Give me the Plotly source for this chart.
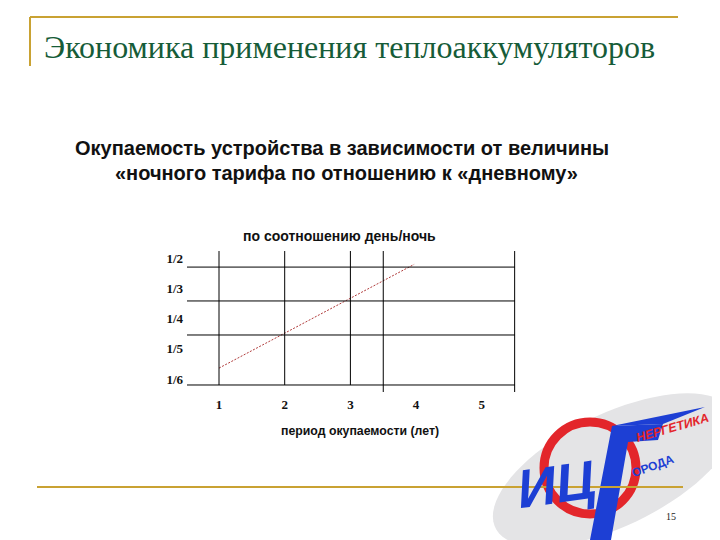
import numpy as np
import plotly.graph_objects as go

# ---------------- data ----------------
years = [1, 2, 3, 4, 5]
ratio_pos = [0, 1, 2, 3, 4]
ratio_labels = ["1/6", "1/5", "1/4", "1/3", "1/2"]
line_years = [1.0, 3.97]
line_ratio = [0.36, 3.79]
grid_h = [3.70, 2.58, 1.455, -0.198]
grid_h_x = [0.513, 5.505]
grid_v = [1, 2, 3, 3.5, 5.5]
grid_v_bottom = [-0.198, -0.198, -0.198, -0.43, -0.43]
grid_v_top = 4.231

title = "Экономика применения теплоаккумуляторов"
subtitle1 = "Окупаемость устройства в зависимости от величины"
subtitle2 = "«ночного тарифа по отношению к «дневному»"
chart_title = "по соотношению день/ночь"
x_title = "период окупаемости (лет)"
page_no = "15"

OFF = 8  # page body margin
W, H = 720 - OFF, 540 - OFF


def px(x, y):
    return (x - OFF) / W, 1 - (y - OFF) / H


GOLD = "#c9a233"
GREEN = "#165c38"
BLUE = "#1d3fd4"
RED = "#e3262b"

fig = go.Figure()
fig.add_trace(go.Scatter(
    x=line_years, y=line_ratio, mode="lines",
    line=dict(color="#b03a3a", width=1, dash="2px,1.5px"),
    hoverinfo="skip", showlegend=False))

shapes = []
for yv in grid_h:
    shapes.append(dict(type="line", xref="x", yref="y", x0=grid_h_x[0], x1=grid_h_x[1],
                       y0=yv, y1=yv, line=dict(color="#000", width=1)))
for xv, yb in zip(grid_v, grid_v_bottom):
    shapes.append(dict(type="line", xref="x", yref="y", x0=xv, x1=xv,
                       y0=yb, y1=grid_v_top, line=dict(color="#000", width=1)))

# logo: rotated ellipse
t = np.linspace(0, 2 * np.pi, 80)
cx, cy, a, b, ang = 614, 470, 132, 56, np.deg2rad(-26)
ex = cx + a * np.cos(t) * np.cos(ang) - b * np.sin(t) * np.sin(ang)
ey = cy + a * np.cos(t) * np.sin(ang) + b * np.sin(t) * np.cos(ang)
pts = [px(u, v) for u, v in zip(ex, ey)]
path = "M " + " L ".join(f"{p[0]:.4f},{p[1]:.4f}" for p in pts) + " Z"
shapes.append(dict(type="path", xref="paper", yref="paper", path=path,
                   fillcolor="#e4e4e6", line=dict(width=0), layer="below"))
# red ring
r = 46
x0, y0 = px(590 - r, 468 + r)
x1, y1 = px(590 + r, 468 - r)
shapes.append(dict(type="circle", xref="paper", yref="paper", x0=x0, y0=y0, x1=x1, y1=y1,
                   line=dict(color=RED, width=9), layer="below"))


def poly(points, color):
    p = [px(u, v) for u, v in points]
    return dict(type="path", xref="paper", yref="paper",
                path="M " + " L ".join(f"{q[0]:.4f},{q[1]:.4f}" for q in p) + " Z",
                fillcolor=color, line=dict(width=0), layer="below")


shapes.append(poly([(590, 540), (611, 540), (628, 442), (658, 440), (663, 424), (612, 426)], BLUE))
shapes.append(poly([(612, 426), (705, 407), (663, 424)], BLUE))

# gold slide lines
for (xa, ya, xb, yb) in [(30, 17, 678, 17), (30, 17, 30, 66), (37, 487, 683, 487)]:
    a0, b0 = px(xa, ya)
    a1, b1 = px(xb, yb)
    shapes.append(dict(type="line", xref="paper", yref="paper", x0=a0, y0=b0, x1=a1, y1=b1,
                       line=dict(color=GOLD, width=2)))

ann = []


def text(s, x, y, size, family, color="#111", bold=False, italic=False, angle=0, xanchor="center"):
    xx, yy = px(x, y)
    ann.append(dict(text=s, x=xx, y=yy, xref="paper", yref="paper", showarrow=False,
                    xanchor=xanchor, yanchor="middle", textangle=angle,
                    font=dict(size=size, family=family, color=color,
                              weight="bold" if bold else "normal",
                              style="italic" if italic else "normal")))


text(title, 42, 47, 32, "Liberation Serif", GREEN, xanchor="left")
text(subtitle1, 342, 148, 20, "Liberation Sans", "#111", bold=True)
text(subtitle2, 346, 173, 20, "Liberation Sans", "#111", bold=True)
text(chart_title, 339, 236, 14, "Liberation Sans", "#111", bold=True)
text(x_title, 360, 431, 12.3, "Liberation Sans", "#111", bold=True)
text("ИЦ", 556, 484, 54, "Liberation Sans", BLUE, bold=True, italic=True, angle=-8)
text("НЕРГЕТИКА", 672, 428, 12.5, "Liberation Sans", RED, bold=True, italic=True, angle=-16)
text("ОРОДА", 653, 466, 12, "Liberation Sans", BLUE, bold=True, angle=-20)
text(page_no, 671, 516, 10, "Liberation Serif", "#222")

fig.update_layout(
    width=W, height=H, margin=dict(l=0, r=0, t=0, b=0),
    paper_bgcolor="white", plot_bgcolor="rgba(0,0,0,0)",
    shapes=shapes, annotations=ann, showlegend=False,
    xaxis=dict(domain=[(185 - OFF) / W, (518 - OFF) / W], range=[0.4825, 5.551],
               tickvals=years, ticktext=[str(v) for v in years],
               showgrid=False, zeroline=False, showline=False, ticks="",
               ticklabelstandoff=1,
               tickfont=dict(family="Liberation Serif", size=13, color="#111", weight="bold")),
    yaxis=dict(domain=[1 - (394 - OFF) / H, 1 - (248 - OFF) / H], range=[-0.496, 4.331],
               tickvals=ratio_pos, ticktext=ratio_labels,
               showgrid=False, zeroline=False, showline=False, ticks="",
               ticklabelstandoff=1,
               tickfont=dict(family="Liberation Serif", size=13, color="#111", weight="bold")),
)

fig.write_html("out.html")
